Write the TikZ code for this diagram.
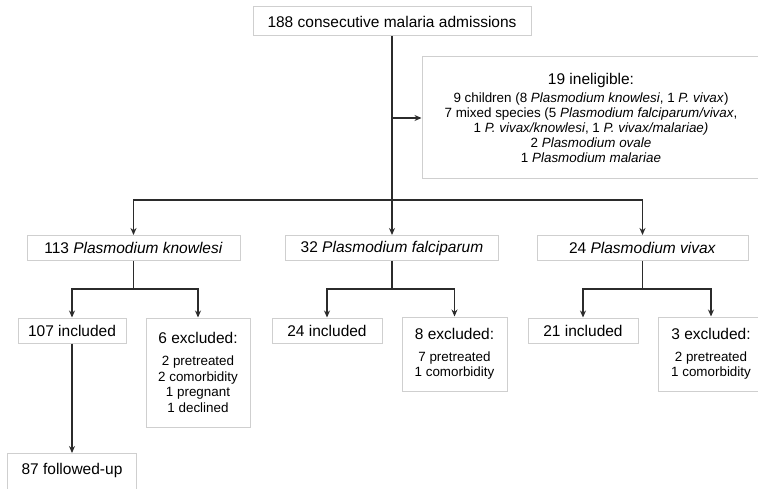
\documentclass[tikz,border=0pt]{standalone}
\usepackage{fontspec}
\setmainfont{Liberation Sans}
\usetikzlibrary{positioning,calc,arrows.meta}

\definecolor{boxgray}{HTML}{CFCFCF}
\definecolor{linegray}{HTML}{2B2B2B}
\newcommand{\bigtxt}{\fontsize{15.5}{18}\selectfont}
\newcommand{\smalltxt}{\fontsize{13.4}{15.6}\selectfont}

\tikzset{
  panel/.style={draw=boxgray, line width=1pt, minimum height=25, inner sep=3pt,
    font=\bigtxt, align=center},
  flow/.style={draw=linegray, line width=1.2pt},
}

\begin{document}
\begin{tikzpicture}[x=1pt, y=-1pt, >={Stealth[length=7pt,width=6pt]}]
\useasboundingbox (0,0) rectangle (758,489);
\clip (0,0) rectangle (758,489);

\node (A) [panel, minimum width=278, minimum height=29] at (392,21.5) {188 consecutive malaria admissions};
\node (I) [panel, minimum width=338, minimum height=122, font=\fontsize{13.4}{15}\selectfont] at (591,118)
  {{\bigtxt 19 ineligible:}\\[3pt]
   9 children (8 \textit{Plasmodium knowlesi}, 1 \textit{P. vivax})\\
   7 mixed species (5 \textit{Plasmodium falciparum/vivax},\\
   1 \textit{P. vivax/knowlesi}, 1 \textit{P. vivax/malariae)}\\
   2 \textit{Plasmodium ovale}\\
   1 \textit{Plasmodium malariae}};

% species
\node (K) [panel, minimum width=213] at (133.5,248) {113 \textit{Plasmodium knowlesi}};
\node (F) [panel, minimum width=213] at (392,248) {32 \textit{Plasmodium falciparum}};
\node (V) [panel, minimum width=211] at (642.5,248) {24 \textit{Plasmodium vivax}};

% included / excluded
\node (Ki) [panel, minimum width=108] at (72,330.5) {107 included};
\node (Ke) [panel, minimum width=104, minimum height=109, font=\smalltxt] at (198,372.5)
  {{\bigtxt 6 excluded:}\\[6pt]2 pretreated\\2 comorbidity\\1 pregnant\\1 declined};
\node (Kf) [panel, minimum width=129, anchor=north, text height=17pt, text depth=20pt, inner ysep=4pt] at (72,453) {87 followed-up};

\node (Fi) [panel, minimum width=110] at (327,330.5) {24 included};
\node (Fe) [panel, minimum width=105, minimum height=74, font=\smalltxt] at (454.5,354)
  {{\bigtxt 8 excluded:}\\[6pt]7 pretreated\\1 comorbidity};

\node (Vi) [panel, minimum width=110] at (583,330.5) {21 included};
\node (Ve) [panel, minimum width=105, minimum height=74, font=\smalltxt] at (711,354)
  {{\bigtxt 3 excluded:}\\[6pt]2 pretreated\\1 comorbidity};

% connectors
\draw[flow,->] (A.south) -- (F.north);
\draw[flow,->] (A.south |- I.west) -- (I.west);
\coordinate (bus) at (392,200);
\draw[flow,->] (bus) -| (K.north);
\draw[flow,->] (bus) -| (V.north);

\draw[flow] (K.south) -- ++(0,28) coordinate (kb);
\draw[flow,->] (kb) -| (Ki.north);
\draw[flow,->] (kb) -| (Ke.north);
\draw[flow] (F.south) -- ++(0,28) coordinate (fb);
\draw[flow,->] (fb) -| (Fi.north);
\draw[flow,->] (fb) -| (Fe.north);
\draw[flow] (V.south) -- ++(0,28) coordinate (vb);
\draw[flow,->] (vb) -| (Vi.north);
\draw[flow,->] (vb) -| (Ve.north);

\draw[flow,->] (Ki.south) -- (Kf.north);
\end{tikzpicture}
\end{document}
